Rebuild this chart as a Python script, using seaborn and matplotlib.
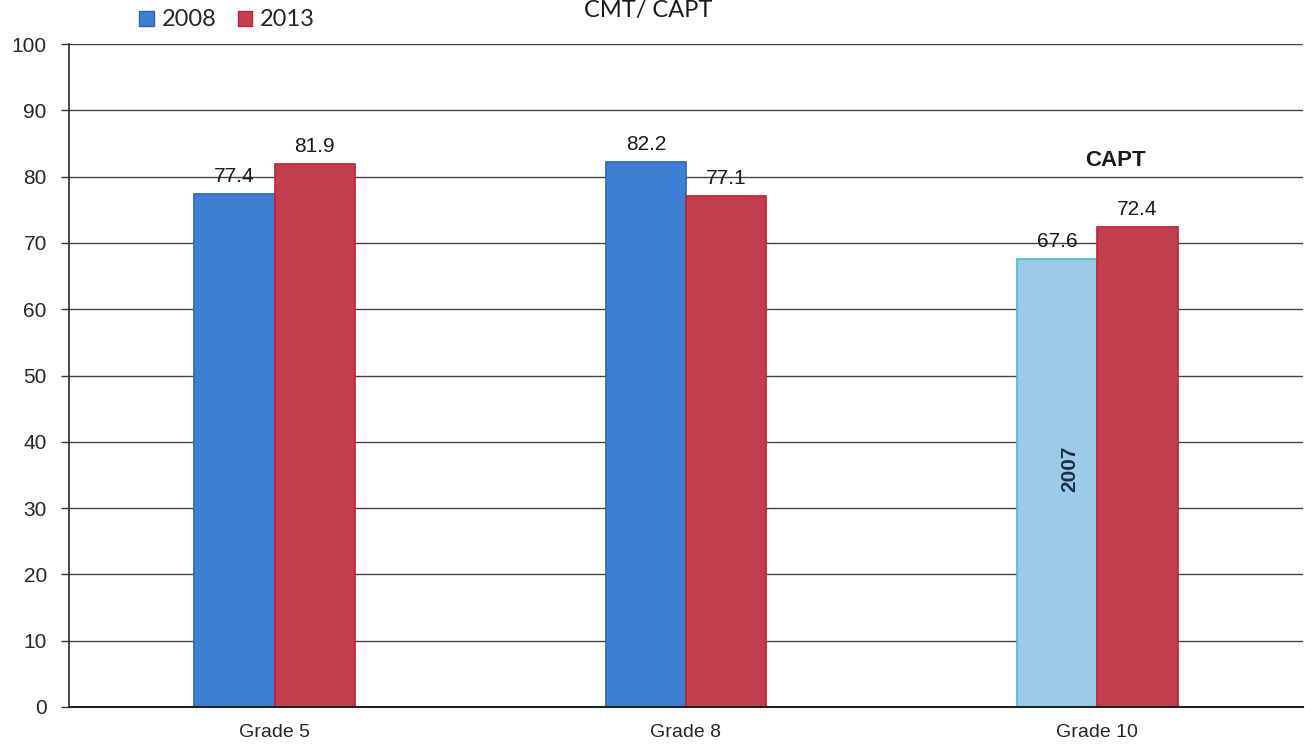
import matplotlib
matplotlib.use("Agg")
import matplotlib.pyplot as plt
import seaborn as sns
import pandas as pd
from matplotlib.patches import Patch

grades = ["Grade 5", "Grade 8", "Grade 10"]
years = ["2008", "2013"]
scores_first = [77.4, 82.2, 67.6]
scores_2013 = [81.9, 77.1, 72.4]
first_labels = ["2008", "2008", "2007"]
yticks = [0, 10, 20, 30, 40, 50, 60, 70, 80, 90, 100]

blue = "#3d7fd3"
blue_edge = "#2a64b8"
light_blue = "#9ccbea"
light_edge = "#4ab8d8"
red = "#c23f4f"
red_edge = "#c81e36"

df = pd.DataFrame({
    "grade": grades * 2,
    "year": [years[0]] * 3 + [years[1]] * 3,
    "score": scores_first + scores_2013,
})

sns.set_theme(style="white")
plt.rcParams["font.family"] = ["Liberation Sans", "DejaVu Sans"]

fig = plt.figure(figsize=(13.05, 7.45), dpi=100)
ax = fig.add_axes([69 / 1305, 38 / 745, 1234 / 1305, 663 / 745])

sns.barplot(data=df, x="grade", y="score", hue="year", order=grades,
            hue_order=years, palette=[blue, red], width=0.39,
            saturation=1, ax=ax, legend=False)

first_bars = ax.containers[0]
second_bars = ax.containers[1]
for bar, lab in zip(first_bars, first_labels):
    if lab == "2007":
        bar.set_facecolor(light_blue)
        bar.set_edgecolor(light_edge)
    else:
        bar.set_edgecolor(blue_edge)
    bar.set_linewidth(1.2)
for bar in second_bars:
    bar.set_edgecolor(red_edge)
    bar.set_linewidth(1.2)

# value labels above bars
for bars, vals in ((first_bars, scores_first), (second_bars, scores_2013)):
    for bar, v in zip(bars, vals):
        ax.text(bar.get_x() + bar.get_width() / 2, v + 1.2, f"{v:.1f}",
                ha="center", va="bottom", fontsize=15, color="#1a1a1a")

# year marker inside the Grade 10 bar
b07 = first_bars[2]
ax.text(b07.get_x() + b07.get_width() / 2 + 0.03, 36, first_labels[2],
        rotation=90, ha="center", va="center", fontsize=15,
        fontweight="bold", color="#1c2f45")
ax.text(2.045, 82.5, "CAPT", ha="center", va="center", fontsize=16,
        fontweight="bold", color="#1a1a1a")

ax.set_ylim(0, 100)
ax.set_xlim(-0.5, 2.5)
ax.set_yticks(yticks)
ax.set_yticklabels([str(t) for t in yticks], fontsize=15)
ax.yaxis.grid(True, color="#444444", linewidth=1.0)
ax.set_axisbelow(True)
ax.set_xlabel("")
ax.set_ylabel("")
ax.tick_params(axis="x", which="major", length=0, labelsize=14, pad=12)
ax.set_xticks([0.5, 1.5], minor=True)
ax.tick_params(axis="x", which="minor", length=7, color="#333333", width=1)
ax.tick_params(axis="y", length=6, color="#333333", width=1, left=True, pad=10)
for s in ("top", "right"):
    ax.spines[s].set_visible(False)
ax.spines["left"].set_color("#333333")
ax.spines["bottom"].set_color("#222222")
ax.spines["bottom"].set_linewidth(1.5)

# legend and title
handles = [Patch(facecolor=blue, edgecolor=blue_edge, label=years[0]),
           Patch(facecolor=red, edgecolor=red_edge, label=years[1])]
fig.legend(handles=handles, loc="center left",
           bbox_to_anchor=(130 / 1305, 1 - 20 / 745),
           ncol=2, frameon=False, prop={"family": "Lato", "size": 17},
           handlelength=0.6, handleheight=0.6, handletextpad=0.35,
           columnspacing=0.9, borderaxespad=0)
fig.text(648 / 1305, 1 - 11 / 745, "CMT/ CAPT", ha="center", va="center",
         fontsize=17, family="Lato", color="#1a1a1a")

fig.savefig("out.png", dpi=100)
